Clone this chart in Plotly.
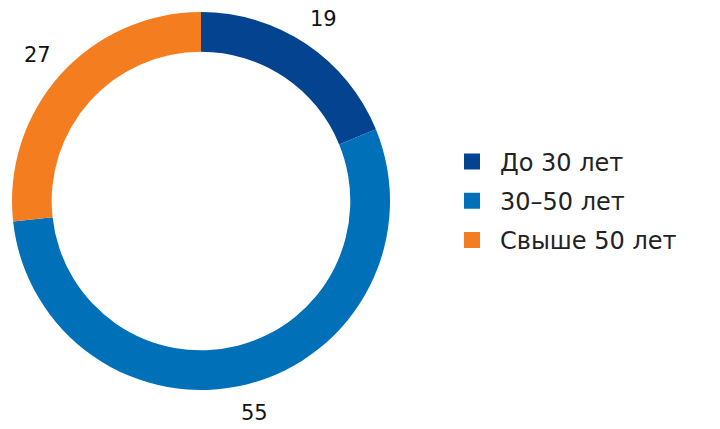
import numpy as np
import plotly.graph_objects as go

labels = ["До 30 лет", "30–50 лет", "Свыше 50 лет"]
values = [19, 55, 27]
colors = ["#03438f", "#0070b9", "#f47d20"]

W, H = 720, 429
OFF = 8  # page body margin of the html page
FONT = "DejaVu Sans"


def px(x, y):
    """Convert page pixel coordinates to paper coordinates."""
    return (x - OFF) / W, 1 - (y - OFF) / H


x0, y1 = px(12, 12)
x1, y0 = px(390, 390)

fig = go.Figure()
fig.add_trace(
    go.Pie(
        labels=labels,
        values=values,
        marker={"colors": colors, "line": {"width": 0}},
        hole=0.79,
        sort=False,
        direction="clockwise",
        rotation=0,
        textinfo="none",
        showlegend=False,
        domain={"x": [x0, x1], "y": [y0, y1]},
    )
)

# legend entries as square markers
for i, (name, col) in enumerate(zip(labels, colors)):
    fig.add_trace(
        go.Scatter(
            x=[None], y=[None], mode="markers", name=name,
            marker={"symbol": "square", "size": 16, "color": col},
            legendgroup=str(i),
        )
    )

# value labels outside the ring, at the middle angle of each slice
cx, cy, r = 201, 201, 219
total = sum(values)
cum = 0
for v in values:
    mid = (cum + v / 2) / total * 2 * np.pi
    cum += v
    ax, ay = px(cx + r * np.sin(mid), cy - r * np.cos(mid))
    fig.add_annotation(
        x=ax, y=ay, xref="paper", yref="paper",
        xanchor="center", yanchor="middle",
        text=str(v), showarrow=False,
        font={"size": 21, "color": "#111111", "family": FONT},
    )

lx, ly = px(444, 201)
fig.update_layout(
    width=W, height=H,
    margin={"l": 0, "r": 0, "t": 0, "b": 0},
    paper_bgcolor="white", plot_bgcolor="white",
    xaxis={"visible": False}, yaxis={"visible": False},
    font={"family": FONT, "color": "#222222"},
    legend={
        "x": lx, "y": ly, "xanchor": "left", "yanchor": "middle",
        "font": {"size": 24, "family": FONT, "color": "#222222"},
        "traceorder": "grouped", "tracegroupgap": 5, "itemwidth": 46,
    },
)

fig.write_html("out.html")
